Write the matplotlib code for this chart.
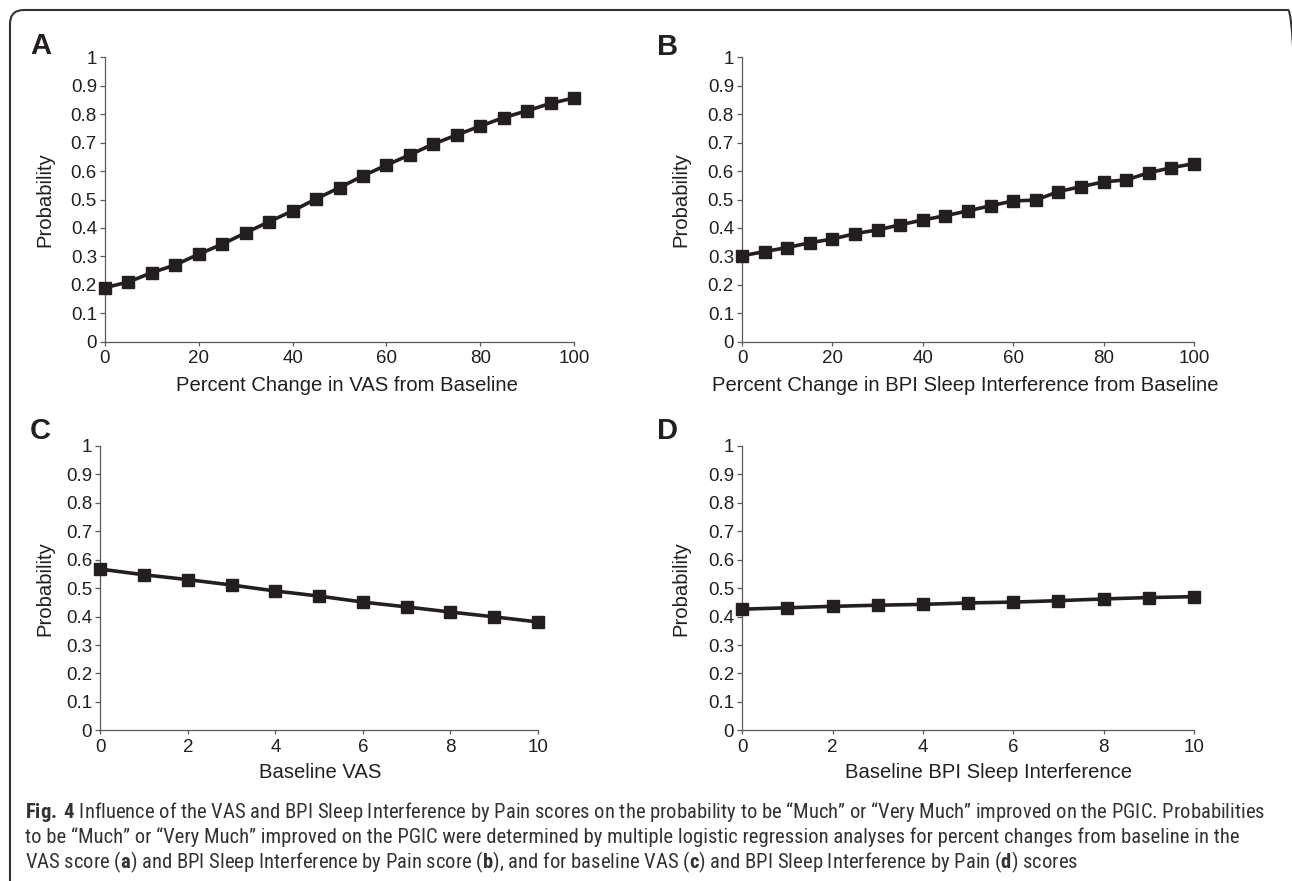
import matplotlib
matplotlib.use("Agg")
import matplotlib.pyplot as plt
from matplotlib import font_manager
from matplotlib.patches import FancyBboxPatch
from matplotlib.transforms import IdentityTransform

# ---------------- data ----------------
x_pct = [0, 5, 10, 15, 20, 25, 30, 35, 40, 45, 50, 55, 60, 65, 70, 75, 80, 85, 90, 95, 100]
prob_a = [0.190, 0.210, 0.243, 0.270, 0.308, 0.343, 0.383, 0.422, 0.460, 0.502, 0.542,
          0.583, 0.621, 0.657, 0.695, 0.727, 0.758, 0.788, 0.812, 0.838, 0.857]
prob_b = [0.302, 0.317, 0.331, 0.348, 0.361, 0.380, 0.393, 0.411, 0.428, 0.443, 0.460,
          0.478, 0.495, 0.498, 0.528, 0.545, 0.562, 0.569, 0.594, 0.612, 0.626]
x_base = [0, 1, 2, 3, 4, 5, 6, 7, 8, 9, 10]
prob_c = [0.567, 0.547, 0.530, 0.511, 0.490, 0.472, 0.451, 0.434, 0.416, 0.399, 0.381]
prob_d = [0.426, 0.431, 0.436, 0.440, 0.443, 0.448, 0.451, 0.456, 0.462, 0.467, 0.470]

y_ticks = [0, 0.1, 0.2, 0.3, 0.4, 0.5, 0.6, 0.7, 0.8, 0.9, 1.0]
y_tick_labels = ["0", "0.1", "0.2", "0.3", "0.4", "0.5", "0.6", "0.7", "0.8", "0.9", "1"]
x_ticks_pct = [0, 20, 40, 60, 80, 100]
x_ticks_base = [0, 2, 4, 6, 8, 10]

panel_letters = ["A", "B", "C", "D"]
x_labels = ["Percent Change in VAS from Baseline",
            "Percent Change in BPI Sleep Interference from Baseline",
            "Baseline VAS",
            "Baseline BPI Sleep Interference"]
y_label = "Probability"

caption_lines = [
    r"$\mathbf{Fig.\,4}$ Influence of the VAS and BPI Sleep Interference by Pain scores on the probability to be “Much” or “Very Much” improved on the PGIC. Probabilities",
    r"to be “Much” or “Very Much” improved on the PGIC were determined by multiple logistic regression analyses for percent changes from baseline in the",
    r"VAS score ($\mathbf{a}$) and BPI Sleep Interference by Pain score ($\mathbf{b}$), and for baseline VAS ($\mathbf{c}$) and BPI Sleep Interference by Pain ($\mathbf{d}$) scores",
]

# ---------------- style ----------------
W, H = 1292, 881
TXT = "#231f20"
AXC = "#5a5a5a"
ttf = font_manager.fontManager.ttflist
names = {f.name for f in ttf}
main_font = "Liberation Sans" if "Liberation Sans" in names else "DejaVu Sans"


def _w(f):
    w = f.weight
    if isinstance(w, str):
        w = font_manager.weight_dict.get(w, 400)
    return w


cap_font = main_font
cands = [f for f in ttf
         if ("Narrow" in f.name or "Condensed" in f.name)
         and 350 <= _w(f) <= 500 and f.style == "normal"]
if cands:
    pref = ["Liberation Sans Narrow", "Roboto Condensed", "Open Sans Condensed"]
    cands.sort(key=lambda f: pref.index(f.name) if f.name in pref else 99)
    cap_font = cands[0].name

plt.rcParams["font.family"] = [main_font, "DejaVu Sans"]
plt.rcParams["mathtext.fontset"] = "custom"
plt.rcParams["mathtext.rm"] = cap_font
plt.rcParams["mathtext.bf"] = cap_font + ":bold"

fig = plt.figure(figsize=(W / 100, H / 100), dpi=100)
fig.patch.set_facecolor("white")

# axes rectangles in pixels: left, right, top, bottom
rects = [(105, 574, 57.3, 341.7), (742, 1194, 57.3, 341.7),
         (100.3, 538, 446, 730.3), (742.3, 1194, 446, 730.3)]
series = [(x_pct, prob_a, x_ticks_pct, (0, 100)),
          (x_pct, prob_b, x_ticks_pct, (0, 100)),
          (x_base, prob_c, x_ticks_base, (0, 10)),
          (x_base, prob_d, x_ticks_base, (0, 10))]
xlabel_x = [0.515, 0.493, 0.502, 0.545]
xlabel_top = [376, 376, 763, 763]
ylabel_px = [45, 681, 45, 681]
letter_pos = [(30, 54), (657, 55), (30, 439), (657, 439)]

for i, ((l, r, t, b), (xs, ys, xt, xlim)) in enumerate(zip(rects, series)):
    ax = fig.add_axes([l / W, 1 - b / H, (r - l) / W, (b - t) / H])
    ax.plot(xs, ys, color=TXT, lw=2.6, marker="s", ms=9, mfc=TXT, mec=TXT,
            clip_on=False, zorder=3)
    ax.set_xlim(*xlim)
    ax.set_ylim(0, 1)
    ax.set_yticks(y_ticks, y_tick_labels)
    ax.set_xticks(xt, [str(v) for v in xt])
    for s in ["top", "right"]:
        ax.spines[s].set_visible(False)
    for s in ["left", "bottom"]:
        ax.spines[s].set_color(AXC)
        ax.spines[s].set_linewidth(0.9)
    ax.tick_params(axis="y", direction="out", length=3.6, width=0.9, color=AXC,
                   pad=2.2, labelsize=13.5, labelcolor=TXT)
    ax.tick_params(axis="x", direction="out", length=3.0, width=0.9, color=AXC,
                   pad=3.0, labelsize=13.5, labelcolor=TXT)
    ax.set_xlabel(x_labels[i], fontsize=14.6, color=TXT)
    ax.xaxis.set_label_coords(xlabel_x[i], (b - xlabel_top[i]) / (b - t))
    ax.set_ylabel(y_label, fontsize=14.6, color=TXT, va="center")
    ax.yaxis.set_label_coords((ylabel_px[i] - l) / (r - l), 0.5)
    ax.set_facecolor("none")
    lx, ly = letter_pos[i]
    fig.text(lx / W, 1 - ly / H, panel_letters[i], fontsize=21, fontweight="bold",
             color=TXT, va="baseline", ha="left")

# ---------------- border ----------------
border = FancyBboxPatch((10, -40), 1292, H - 10 + 40,
                        boxstyle="round,pad=0,rounding_size=14",
                        transform=IdentityTransform(), fill=False,
                        edgecolor="#333333", linewidth=1.5)
fig.patches.append(border)

# ---------------- caption ----------------
baselines = [818, 843, 868]
cap_texts = []
for line, yb in zip(caption_lines, baselines):
    cap_texts.append(fig.text(25 / W, 1 - yb / H, line, fontsize=13, color="#333333",
                              family=cap_font, fontweight="normal",
                              va="baseline", ha="left"))
fig.canvas.draw()
rend = fig.canvas.get_renderer()
w0 = cap_texts[0].get_window_extent(rend).width
scale = 1240.0 / w0
for tx in cap_texts:
    tx.set_fontsize(13 * scale)

fig.savefig("out.png", dpi=100, facecolor="white")
